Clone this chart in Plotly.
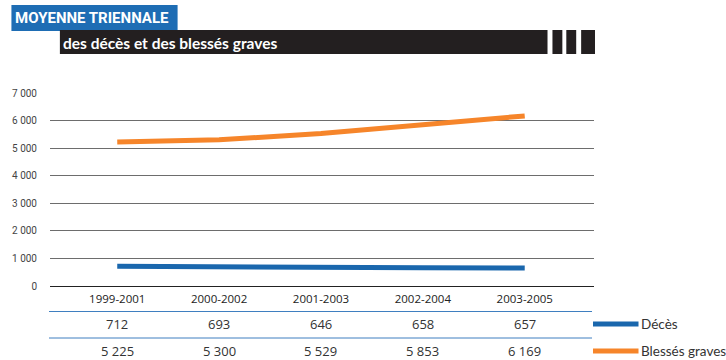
import plotly.graph_objects as go

# Three-year moving averages
periods = ["1999-2001", "2000-2002", "2001-2003", "2002-2004", "2003-2005"]
deces = [712, 693, 646, 658, 657]
blesses = [5225, 5300, 5529, 5853, 6169]
y_ticks = [0, 1000, 2000, 3000, 4000, 5000, 6000, 7000]
y_tick_text = ["0", "1 000", "2 000", "3 000", "4 000", "5 000", "6 000", "7 000"]

BLUE = "#1a67ad"
ORANGE = "#f6852a"
DARK = "#231f20"

W, H = 726, 360
L, R, T, B = 44, 132, 93, 74
PW, PH = W - L - R, H - T - B


def px(x):
    """pixel x -> paper x"""
    return (x - L) / PW


def py(y):
    """pixel y (from top) -> paper y"""
    return (H - B - y) / PH


def fmt(v):
    return f"{v:,}".replace(",", " ")


fig = go.Figure()
fig.add_trace(go.Scatter(x=periods, y=blesses, mode="lines", name="Blessés graves",
                         line=dict(color=ORANGE, width=5), showlegend=False))
fig.add_trace(go.Scatter(x=periods, y=deces, mode="lines", name="Décès",
                         line=dict(color=BLUE, width=5), showlegend=False))

shapes = []
annotations = []

# header blocks
shapes.append(dict(type="rect", xref="paper", yref="paper", x0=px(5), x1=px(173), y0=py(31), y1=py(5),
                   fillcolor="#1e6db4", line=dict(width=0), layer="above"))
shapes.append(dict(type="rect", xref="paper", yref="paper", x0=px(54), x1=px(547), y0=py(54), y1=py(30),
                   fillcolor=DARK, line=dict(width=0), layer="above"))
for a, b in [(552, 562), (566, 576), (581, 595)]:
    shapes.append(dict(type="rect", xref="paper", yref="paper", x0=px(a), x1=px(b), y0=py(54), y1=py(30),
                       fillcolor=DARK, line=dict(width=0), layer="above"))
annotations.append(dict(text="<b>MOYENNE TRIENNALE</b>", xref="paper", yref="paper", x=px(7), y=py(18),
                        xanchor="left", yanchor="middle", showarrow=False,
                        font=dict(family="Liberation Sans Narrow, Roboto", size=15, color="white")))
annotations.append(dict(text="<b>des décès et des blessés graves</b>", xref="paper", yref="paper",
                        x=px(55), y=py(43), xanchor="left", yanchor="middle", showarrow=False,
                        font=dict(family="Lato, Open Sans", size=15.5, color="white")))

# table rules
for yy in [311.5, 338]:
    shapes.append(dict(type="line", xref="paper", yref="paper", x0=px(43), x1=px(592), y0=py(yy), y1=py(yy),
                       line=dict(color="#3f7fc0", width=1)))

# table values
for row_vals, yy in [(deces, 324), (blesses, 351)]:
    for p, v in zip(periods, row_vals):
        annotations.append(dict(text=fmt(v), xref="x", yref="paper", x=p, y=py(yy),
                                xanchor="center", yanchor="middle", showarrow=False,
                                font=dict(family="Open Sans", size=13, color="#333333")))

# legend
for name, color, yy in [("Décès", BLUE, 324), ("Blessés graves", ORANGE, 351)]:
    shapes.append(dict(type="line", xref="paper", yref="paper", x0=px(593), x1=px(639), y0=py(yy), y1=py(yy),
                       line=dict(color=color, width=5)))
    annotations.append(dict(text=name, xref="paper", yref="paper", x=px(639), y=py(yy),
                            xanchor="left", yanchor="middle", showarrow=False,
                            font=dict(family="Lato", size=13.5, color="#333333")))

fig.update_layout(
    width=W, height=H,
    margin=dict(l=L, r=R, t=T, b=B, pad=0),
    plot_bgcolor="white", paper_bgcolor="white",
    shapes=shapes, annotations=annotations,
    xaxis=dict(type="category", range=[-0.66, 4.68], showgrid=False, zeroline=False,
               showline=False, ticks="", tickfont=dict(family="Open Sans", size=11.5, color="#222222"),
               ticklabelstandoff=4),
    yaxis=dict(range=[0, 7000], tickvals=y_ticks, ticktext=y_tick_text, showgrid=True,
               gridcolor="#6d6d6d", gridwidth=1, zeroline=True, zerolinecolor="#222222", zerolinewidth=1,
               showline=False, ticks="", ticklabelstandoff=12,
               tickfont=dict(family="Liberation Sans Narrow, Roboto", size=10, color="#444444")),
)

fig.write_html("out.html")
